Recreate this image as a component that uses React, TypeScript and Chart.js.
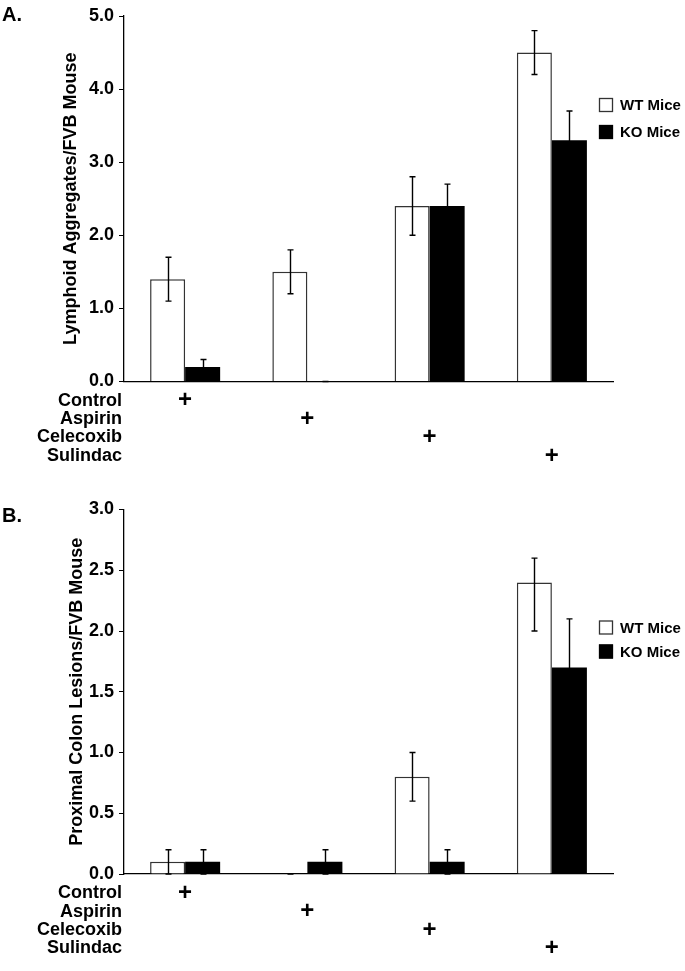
import React, { useEffect, useRef } from "react";
import { Chart, registerables } from "chart.js";

Chart.register(...registerables);

const FONT = "'Liberation Sans', Arial, Helvetica, sans-serif";

// ---------- data ----------
const treatments = ["Control", "Aspirin", "Celecoxib", "Sulindac"];
const seriesNames = ["WT Mice", "KO Mice"];

const aTitle = "Lymphoid Aggregates/FVB Mouse";
const aWT = [1.4, 1.5, 2.4, 4.5];
const aWTErrUp = [0.3, 0.3, 0.4, 0.3];
const aWTErrDown = [0.3, 0.3, 0.4, 0.3];
const aKO = [0.2, 0, 2.4, 3.3];
const aKOErrUp = [0.1, 0, 0.3, 0.4];
const aKOErrDown = [0.1, 0, 0.3, 0.4];
const aYMax = 5;
const aYStep = 1;

const bTitle = "Proximal Colon Lesions/FVB Mouse";
const bWT = [0.1, 0, 0.8, 2.4];
const bWTErrUp = [0.1, 0, 0.2, 0.2];
const bWTErrDown = [0.1, 0, 0.2, 0.4];
const bKO = [0.1, 0.1, 0.1, 1.7];
const bKOErrUp = [0.1, 0.1, 0.1, 0.4];
const bKOErrDown = [0.1, 0.1, 0.1, 0.4];
const bYMax = 3;
const bYStep = 0.5;

// x tick labels: a "+" on the row of the treatment given to each group
const xLabels = treatments.map((_, i) => treatments.map((_, j) => (i === j ? "+" : "")));

const TICK_SIZE = 18;
const ROW_H = 18.4;

const errorBarPlugin = {
  id: "errorBars",
  afterDatasetsDraw(chart: any) {
    const ctx = chart.ctx;
    const y = chart.scales.y;
    ctx.save();
    ctx.strokeStyle = "#000";
    ctx.lineWidth = 1.4;
    chart.data.datasets.forEach((ds: any, d: number) => {
      const meta = chart.getDatasetMeta(d);
      (ds.errUp || []).forEach((up: number, i: number) => {
        const el = meta.data[i];
        if (!el) return;
        const v = ds.data[i];
        const down = ds.errDown[i];
        const x = Math.round(el.x) + 0.5;
        const yTop = y.getPixelForValue(v + up);
        const yBot = y.getPixelForValue(v - down);
        ctx.beginPath();
        ctx.moveTo(x, yTop);
        ctx.lineTo(x, yBot);
        ctx.moveTo(x - 3, yTop);
        ctx.lineTo(x + 3, yTop);
        ctx.moveTo(x - 3, yBot);
        ctx.lineTo(x + 3, yBot);
        ctx.stroke();
      });
    });
    ctx.restore();
  },
};

const decoPlugin = {
  id: "deco",
  afterDraw(chart: any, _args: any, opts: any) {
    const ctx = chart.ctx;
    const area = chart.chartArea;
    ctx.save();
    ctx.fillStyle = "#000";
    // panel letter
    ctx.font = `bold 20px ${FONT}`;
    ctx.textAlign = "left";
    ctx.textBaseline = "alphabetic";
    ctx.fillText(opts.letter, 2, opts.letterY);

    // treatment row names
    const xs = chart.scales.x;
    const y0 = xs.top + xs.options.ticks.padding + ROW_H / 2;
    ctx.font = `bold ${TICK_SIZE}px ${FONT}`;
    ctx.textAlign = "right";
    ctx.textBaseline = "middle";
    treatments.forEach((t, i) => ctx.fillText(t, area.left - 2, y0 + i * ROW_H));

    // legend
    ctx.font = `bold 15px ${FONT}`;
    ctx.textAlign = "left";
    chart.data.datasets.forEach((ds: any, d: number) => {
      const cy = opts.legendY + d * opts.legendGap;
      const bx = area.right - 14;
      ctx.fillStyle = ds.backgroundColor;
      ctx.fillRect(bx, cy - 7, 14, 14);
      ctx.strokeStyle = ds.borderColor;
      ctx.lineWidth = 1.3;
      ctx.strokeRect(bx + 0.5, cy - 6.5, 13, 13);
      ctx.fillStyle = "#000";
      ctx.fillText(ds.label, area.right + 7, cy + 1);
    });
    ctx.restore();
  },
};

type Spec = {
  letter: string;
  title: string;
  wt: number[];
  wtUp: number[];
  wtDown: number[];
  ko: number[];
  koUp: number[];
  koDown: number[];
  yMax: number;
  yStep: number;
  height: number;
  padTop: number;
  padBottom: number;
  titlePad: number;
  legendY: number;
  legendGap: number;
  letterY: number;
};

function makeConfig(s: Spec): any {
  const plusFont = { family: FONT, size: 24, weight: "bold" as const, lineHeight: `${ROW_H}px` };
  return {
    type: "bar",
    data: {
      labels: xLabels,
      datasets: [
        {
          label: seriesNames[0],
          data: s.wt,
          errUp: s.wtUp,
          errDown: s.wtDown,
          backgroundColor: "#ffffff",
          borderColor: "#333333",
          borderWidth: 1.5,
        },
        {
          label: seriesNames[1],
          data: s.ko,
          errUp: s.koUp,
          errDown: s.koDown,
          backgroundColor: "#000000",
          borderColor: "#000000",
          borderWidth: 0,
        },
      ],
    },
    options: {
      responsive: false,
      animation: false,
      events: [],
      layout: { padding: { left: 0, right: 72, top: s.padTop, bottom: s.padBottom } },
      datasets: { bar: { categoryPercentage: 0.573, barPercentage: 1 } },
      plugins: {
        legend: { display: false },
        tooltip: { enabled: false },
        deco: { letter: s.letter, legendY: s.legendY, legendGap: s.legendGap, letterY: s.letterY },
      },
      scales: {
        x: {
          type: "category",
          offset: true,
          grid: { display: false, drawTicks: false },
          border: { display: true, color: "#000", width: 1.3 },
          ticks: { padding: 10, font: plusFont, color: "#000", maxRotation: 0, autoSkip: false },
          afterFit: (sc: any) => {
            sc.height = 90;
          },
        },
        y: {
          min: 0,
          max: s.yMax,
          ticks: {
            stepSize: s.yStep,
            padding: 5,
            font: { family: FONT, size: TICK_SIZE, weight: "bold" },
            color: "#000",
            callback: (v: any) => Number(v).toFixed(1),
          },
          grid: { drawOnChartArea: false, tickLength: 5, color: "#000", lineWidth: 1 },
          border: { display: true, color: "#000", width: 1.3 },
          title: {
            display: true,
            text: s.title,
            color: "#000",
            font: { family: FONT, size: 18, weight: "bold" },
            padding: { top: s.titlePad, bottom: 0 },
          },
          afterFit: (sc: any) => {
            sc.width = 124;
          },
        },
      },
    },
    plugins: [errorBarPlugin, decoPlugin],
  };
}

const specA: Spec = {
  letter: "A.",
  title: aTitle,
  wt: aWT,
  wtUp: aWTErrUp,
  wtDown: aWTErrDown,
  ko: aKO,
  koUp: aKOErrUp,
  koDown: aKOErrDown,
  yMax: aYMax,
  yStep: aYStep,
  height: 485,
  padTop: 16,
  padBottom: 485 - 381.5 - 90,
  titlePad: 60,
  legendY: 105,
  legendGap: 27,
  letterY: 21,
};

const specB: Spec = {
  letter: "B.",
  title: bTitle,
  wt: bWT,
  wtUp: bWTErrUp,
  wtDown: bWTErrDown,
  ko: bKO,
  koUp: bKOErrUp,
  koDown: bKOErrDown,
  yMax: bYMax,
  yStep: bYStep,
  height: 486,
  padTop: 24.5,
  padBottom: 486 - 389 - 90,
  titlePad: 66,
  legendY: 142.5,
  legendGap: 24,
  letterY: 37,
};

function Panel({ spec, top }: { spec: Spec; top: number }) {
  const ref = useRef<HTMLCanvasElement | null>(null);
  useEffect(() => {
    if (!ref.current) return;
    const chart = new Chart(ref.current, makeConfig(spec));
    return () => chart.destroy();
  }, [spec]);
  return (
    <canvas
      ref={ref}
      width={685}
      height={spec.height}
      style={{ position: "absolute", left: 0, top, width: 685, height: spec.height, display: "block" }}
    />
  );
}

export default function App() {
  return (
    <div style={{ position: "absolute", left: 0, top: 0, width: 685, height: 971, background: "#fff" }}>
      <Panel spec={specA} top={0} />
      <Panel spec={specB} top={485} />
    </div>
  );
}
